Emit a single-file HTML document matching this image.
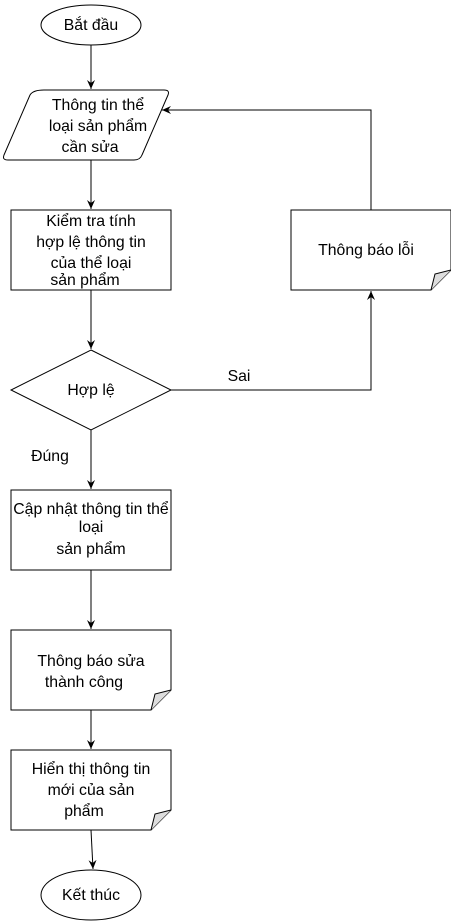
<!DOCTYPE html>
<html><head><meta charset="utf-8"><style>
body{margin:0;background:#fff}
svg{display:block}
text{font-family:"Liberation Sans",Arial,sans-serif;font-size:15.8px;fill:#000;text-anchor:middle}
</style></head><body>
<svg width="451" height="921" viewBox="0 0 451 921" xmlns="http://www.w3.org/2000/svg">
<defs><marker id="a" markerWidth="10" markerHeight="10" refX="9" refY="5" orient="auto" markerUnits="userSpaceOnUse"><path d="M0,1 L9,5 L0,9 L3,5 Z" fill="#000"/></marker></defs>
<g fill="#fff" stroke="#000" stroke-width="1">
<ellipse cx="91" cy="25" rx="50" ry="20"/>
<path d="M44,90 L164,90 Q170,90 168,95 L142,155 Q140,160 134,160 L8,160 Q2,160 4,155 L30,95 Q33,90 44,90 Z"/>
<rect x="11" y="210" width="160" height="80"/>
<path d="M91,350 L171,390 L91,430 L11,390 Z"/>
<path d="M291,210 L451,210 L451,270 L431,290 L291,290 Z"/>
<path d="M431,290 L435,274 L451,270" fill="#ddd"/>
<rect x="11" y="490" width="160" height="80"/>
<path d="M11,630 L171,630 L171,690 L151,710 L11,710 Z"/>
<path d="M151,710 L155,694 L171,690" fill="#ddd"/>
<path d="M11,750 L171,750 L171,810 L151,830 L11,830 Z"/>
<path d="M151,830 L155,814 L171,810" fill="#ddd"/>
<ellipse cx="91" cy="895" rx="50" ry="25"/>
</g>
<g stroke="#000" fill="none" marker-end="url(#a)">
<path d="M91,45 V89"/>
<path d="M91,160 V209"/>
<path d="M91,290 V349"/>
<path d="M171,390 H371 V291"/>
<path d="M371,210 V110 H162"/>
<path d="M91,430 V489"/>
<path d="M91,570 V629"/>
<path d="M91,710 V749"/>
<path d="M91,830 L93,869"/>
</g>
<text x="91" y="30">Bắt đầu</text>
<text x="98" y="110">Thông tin thể</text>
<text x="98" y="131">loại sản phẩm</text>
<text x="90" y="152">cần sửa</text>
<text x="91" y="226">Kiểm tra tính</text>
<text x="91" y="247">hợp lệ thông tin</text>
<text x="91" y="268">của thể loại</text>
<text x="85" y="285">sản phẩm</text>
<text x="91" y="395">Hợp lệ</text>
<text x="239" y="381">Sai</text>
<text x="50" y="461">Đúng</text>
<text x="366" y="255">Thông báo lỗi</text>
<text x="91" y="514">Cập nhật thông tin thể</text>
<text x="91" y="532">loại</text>
<text x="91" y="554">sản phẩm</text>
<text x="91" y="666">Thông báo sửa</text>
<text x="84" y="687">thành công</text>
<text x="91" y="774">Hiển thị thông tin</text>
<text x="91" y="795">mới của sản</text>
<text x="84" y="816">phẩm</text>
<text x="91" y="900">Kết thúc</text>
</svg>
</body></html>
